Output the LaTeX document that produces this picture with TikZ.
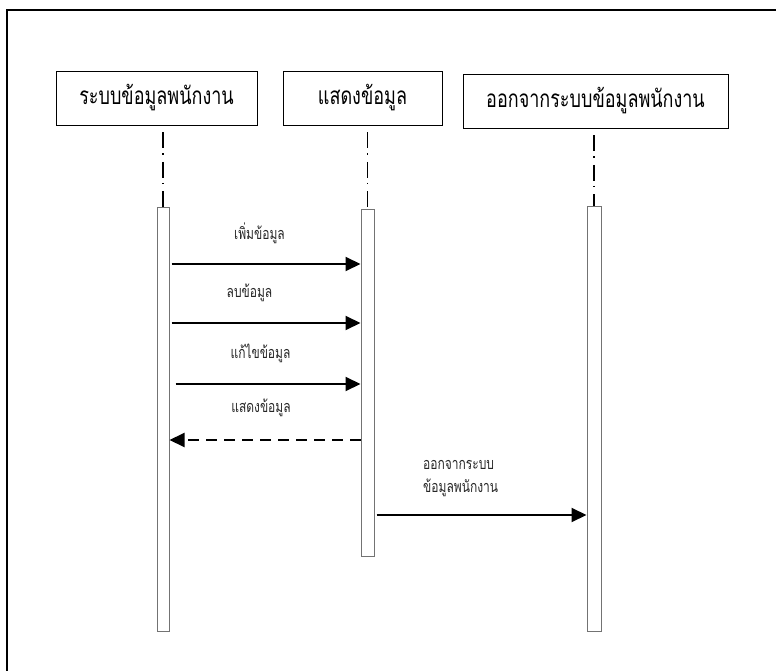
\documentclass[tikz,border=0pt]{standalone}
\usepackage{fontspec}
\setmainfont[Script=Thai]{Loma}
\usetikzlibrary{arrows.meta}
% Thai text set narrow and tall
\newcommand{\tallthai}[1]{\scalebox{1}[1.35]{#1}}
\begin{document}
\begin{tikzpicture}[x=1pt, y=-1pt,
  objbox/.style={draw=black, line width=0.9pt, fill=white, minimum height=54pt,
    inner sep=0pt, font=\fontsize{18}{20}\selectfont},
  actbar/.style={draw=black!55, line width=1pt, fill=white, minimum width=12pt, inner sep=0pt},
  lifeline/.style={draw=black, line width=1.2pt, dash pattern=on 16pt off 5pt on 1.5pt off 7pt},
  msg/.style={draw=black, line width=2pt, -{Triangle[length=15pt,width=14pt]}},
  reply/.style={msg, dash pattern=on 11pt off 7pt},
  msglabel/.style={font=\fontsize{12}{17}\selectfont, inner sep=0pt, text=black!85}
]
\useasboundingbox (0,0) rectangle (776,671);
% outer frame (runs off the right and bottom edges)
\draw[line width=1.6pt] (7,690) -- (7,10) -- (790,10);

% object boxes
\node[objbox, minimum width=201pt] (b1) at (156.5,98) {\tallthai{ระบบข้อมูลพนักงาน}};
\node[objbox, minimum width=159pt] (b2) at (362.5,98) {\tallthai{แสดงข้อมูล}};
\node[objbox, minimum width=265pt] (b3) at (595.5,101) {\tallthai{ออกจากระบบข้อมูลพนักงาน}};

% activation bars
\node[actbar, minimum height=423pt] (a1) at (163,419.5) {};
\node[actbar, minimum height=346pt, minimum width=13pt] (a2) at (367.5,383) {};
\node[actbar, minimum height=424pt, minimum width=14pt] (a3) at (594,419) {};

% lifelines
\draw[lifeline] ([yshift=-7pt]a1.north |- b1.south) -- (a1.north);
\draw[lifeline] ([yshift=-7pt]a2.north |- b2.south) -- (a2.north);
\draw[lifeline] ([yshift=-7pt]a3.north |- b3.south) -- (a3.north);

% message rows
\coordinate (m1) at (0,264);
\coordinate (m2) at (0,323);
\coordinate (m3) at (0,384);
\coordinate (m4) at (0,440);
\coordinate (m5) at (0,515);

\draw[msg] ([xshift=2pt]a1.east |- m1) -- (a2.west |- m1);
\draw[msg] ([xshift=2pt]a1.east |- m2) -- (a2.west |- m2);
\draw[msg] ([xshift=6pt]a1.east |- m3) -- (a2.west |- m3);
\draw[reply] (a2.west |- m4) -- (a1.east |- m4);
\draw[msg] ([xshift=2pt]a2.east |- m5) -- (a3.west |- m5);

% message labels
\node[msglabel] (l1) at (259.5,233) {\tallthai{เพิ่มข้อมูล}};
\node[msglabel] (l2) at (249.5,293) {\tallthai{ลบข้อมูล}};
\node[msglabel] (l3) at (260.5,353) {\tallthai{แก้ไขข้อมูล}};
\node[msglabel] (l4) at (261,408) {\tallthai{แสดงข้อมูล}};
\node[msglabel, anchor=west] (l5) at (423,476)
  {\tallthai{\begin{tabular}{@{}l@{}}ออกจากระบบ\\ข้อมูลพนักงาน\end{tabular}}};
\end{tikzpicture}
\end{document}
